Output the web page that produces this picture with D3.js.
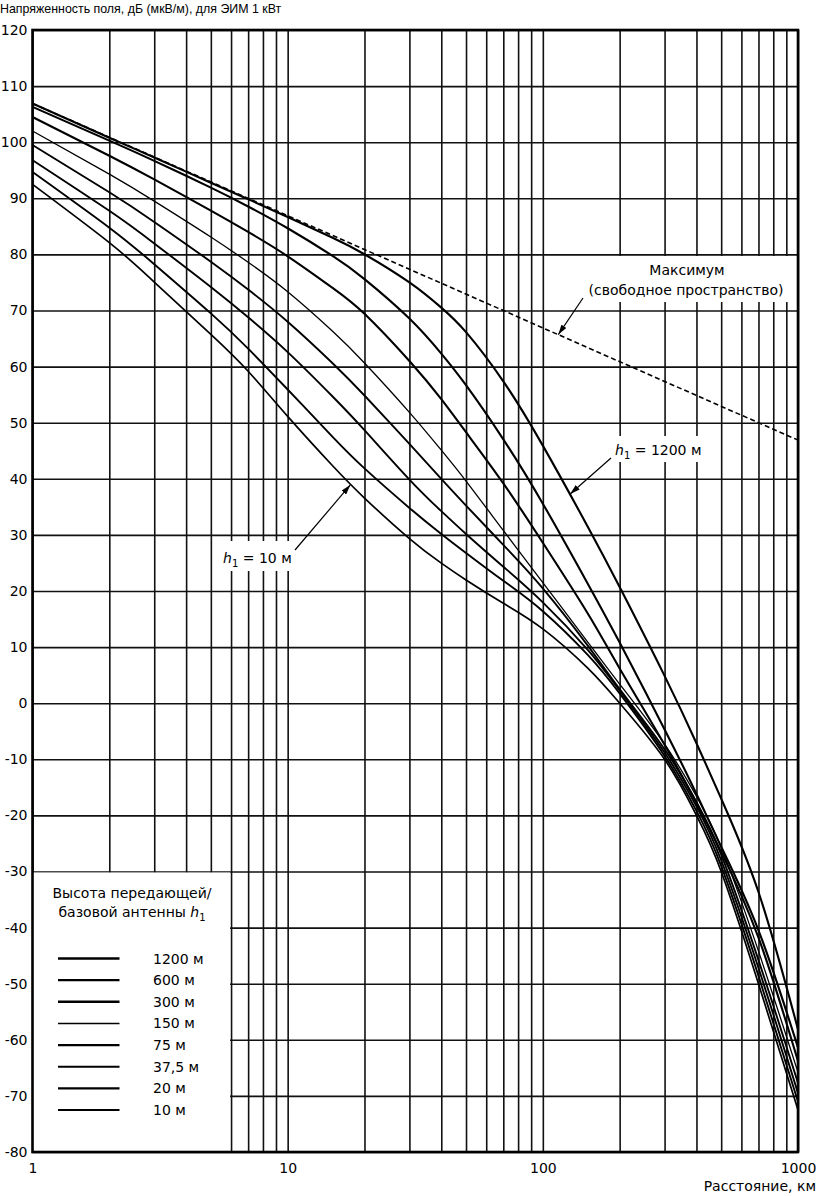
<!DOCTYPE html>
<html lang="ru">
<head>
<meta charset="utf-8">
<script src="https://cdn.jsdelivr.net/npm/d3@7"></script>
<style>
  html, body { margin: 0; padding: 0; background: #fff; }
  svg { display: block; }
</style>
</head>
<body>
<div id="chart"></div>
<script>
const distancesKm = [1, 2, 3, 5, 7, 10, 15, 20, 30, 40, 50, 70, 100, 150, 200, 300, 400, 500, 700, 1000];

// field strength, dB(uV/m), one array per transmitter height h1
const h1200 = [106.9, 100.8, 97.28, 92.77, 89.85, 86.67, 82.97, 80.03, 75.01, 70.51, 66.14, 57.38, 45.91, 31.46, 20.71, 4.87, -7.13, -17.02, -33.66, -58.15];
const h600 = [106.3, 100.28, 96.67, 91.9, 88.54, 84.66, 79.73, 75.6, 68.56, 62.31, 56.68, 47.04, 35.57, 21.31, 10.81, -4.68, -16.18, -25.59, -40.48, -61.4];
const h300 = [104.5, 97.58, 93.36, 87.81, 84.01, 79.67, 74.04, 69.42, 61.0, 54.2, 48.3, 39.2, 28.6, 16.0, 6.2, -7.4, -17.8, -26.5, -41.8, -63.8];
const h150 = [102.0, 94.3, 89.5, 83.1, 78.6, 73.35, 66.3, 60.65, 51.85, 45.1, 39.6, 30.8, 21.5, 10.9, 3.4, -7.3, -16.6, -25.7, -44.2, -65.8];
const h75 = [99.5, 91.07, 85.79, 78.69, 73.73, 68.0, 60.6, 54.85, 46.23, 39.98, 35.23, 28.22, 20.47, 10.26, 2.51, -8.2, -17.6, -27.0, -45.8, -67.7];
const h37 = [96.8, 87.77, 81.96, 74.19, 68.79, 62.59, 54.67, 48.67, 39.87, 34.24, 30.17, 24.33, 17.97, 9.52, 2.27, -8.8, -18.4, -28.0, -47.2, -69.5];
const h20 = [94.7, 84.77, 78.26, 69.49, 63.21, 55.92, 47.47, 41.85, 34.81, 30.18, 26.79, 21.83, 16.4, 8.62, 1.75, -9.4, -19.2, -29.0, -48.6, -71.0];
const h10 = [92.5, 82.11, 75.07, 65.75, 59.18, 51.12, 42.32, 36.57, 29.35, 24.97, 21.97, 17.81, 13.24, 6.24, 0.0, -10.0, -20.0, -30.0, -50.0, -72.5];

const heightLabels = ["1200 м", "600 м", "300 м", "150 м", "75 м", "37,5 м", "20 м", "10 м"];
const heightSeries = [h1200, h600, h300, h150, h75, h37, h20, h10];

// free space maximum: a straight line on the log axis
const freeSpaceKm = [1, 1000];
const freeSpaceDb = [106.9, 46.9];

const yTicks = [-80, -70, -60, -50, -40, -30, -20, -10, 0, 10, 20, 30, 40, 50, 60, 70, 80, 90, 100, 110, 120];
const xLabelTicks = [1, 10, 100, 1000];

const lineWidths = [2.1, 2.1, 2.1, 1.3, 1.9, 1.9, 1.9, 1.7];

const width = 819,
  height = 1196;
const plot = { left: 32.5, top: 30, right: 798, bottom: 1152 };
const labelFont = "DejaVu Sans, sans-serif";

const svg = d3
  .select("#chart")
  .append("svg")
  .attr("width", width)
  .attr("height", height)
  .attr("viewBox", `0 0 ${width} ${height}`);

svg
  .append("defs")
  .append("marker")
  .attr("id", "arrow")
  .attr("viewBox", "0 0 10 6")
  .attr("refX", 10)
  .attr("refY", 3)
  .attr("markerWidth", 10)
  .attr("markerHeight", 6)
  .attr("markerUnits", "userSpaceOnUse")
  .attr("orient", "auto")
  .append("path")
  .attr("d", "M0,0L10,3L0,6z")
  .attr("fill", "#000");

const x = d3.scaleLog().domain([1, 1000]).range([plot.left, plot.right]);
const y = d3.scaleLinear().domain([-80, 120]).range([plot.bottom, plot.top]);

// grid: every 1-2-3..9 on the log axis, every 10 dB
svg
  .append("g")
  .attr("transform", `translate(0,${plot.bottom})`)
  .call(d3.axisBottom(x).tickValues(x.ticks()).tickSize(-(plot.bottom - plot.top)).tickFormat(""))
  .call((g) => g.select(".domain").remove())
  .call((g) => g.selectAll("line").attr("stroke", "#111").attr("stroke-width", 1.6));

svg
  .append("g")
  .attr("transform", `translate(${plot.left},0)`)
  .call(d3.axisLeft(y).tickValues(yTicks).tickSize(-(plot.right - plot.left)).tickFormat(""))
  .call((g) => g.select(".domain").remove())
  .call((g) => g.selectAll("line").attr("stroke", "#111").attr("stroke-width", 1.6));

// white panels: legend box and label backgrounds
svg
  .append("rect")
  .attr("x", plot.left)
  .attr("y", y(-30) + 1)
  .attr("width", x(6) - plot.left - 1)
  .attr("height", plot.bottom - y(-30) - 1)
  .attr("fill", "#fff");

const labelBoxes = [
  [580, 256, 212, 46],
  [608, 436, 98, 26],
  [221, 541, 76, 30],
];
svg
  .selectAll(".label-box")
  .data(labelBoxes)
  .join("rect")
  .attr("class", "label-box")
  .attr("x", (d) => d[0])
  .attr("y", (d) => d[1])
  .attr("width", (d) => d[2])
  .attr("height", (d) => d[3])
  .attr("fill", "#fff");

// frame
svg
  .append("rect")
  .attr("x", plot.left)
  .attr("y", plot.top)
  .attr("width", plot.right - plot.left)
  .attr("height", plot.bottom - plot.top)
  .attr("fill", "none")
  .attr("stroke", "#000")
  .attr("stroke-width", 2.6);

const line = d3
  .line()
  .x((d) => x(d[0]))
  .y((d) => y(d[1]))
  .curve(d3.curveNatural);

svg
  .append("g")
  .selectAll("path")
  .data(heightSeries)
  .join("path")
  .attr("d", (vals) => line(distancesKm.map((d, i) => [d, vals[i]])))
  .attr("fill", "none")
  .attr("stroke", "#000")
  .attr("stroke-width", (d, i) => lineWidths[i]);

svg
  .append("path")
  .attr("d", line.curve(d3.curveLinear)(freeSpaceKm.map((d, i) => [d, freeSpaceDb[i]])))
  .attr("fill", "none")
  .attr("stroke", "#000")
  .attr("stroke-width", 1.6)
  .attr("stroke-dasharray", "5,3");

// tick labels
svg
  .append("g")
  .attr("transform", `translate(${plot.left},0)`)
  .call(d3.axisLeft(y).tickValues(yTicks).tickSize(0).tickPadding(5).tickFormat((d) => String(d)))
  .call((g) => g.select(".domain").remove())
  .call((g) => g.selectAll("text").attr("font-family", labelFont).attr("font-size", 14).attr("fill", "#000"));

svg
  .append("g")
  .attr("transform", `translate(0,${plot.bottom})`)
  .call(d3.axisBottom(x).tickValues(xLabelTicks).tickSize(0).tickPadding(11).tickFormat((d) => String(d)))
  .call((g) => g.select(".domain").remove())
  .call((g) => g.selectAll("text").attr("font-family", labelFont).attr("font-size", 14).attr("fill", "#000"));

svg
  .append("text")
  .attr("x", 0)
  .attr("y", 13)
  .attr("font-family", "Liberation Sans, Arial, sans-serif")
  .attr("font-size", 12.4)
  .text("Напряженность поля, дБ (мкВ/м), для ЭИМ 1 кВт");

svg
  .append("text")
  .attr("x", 816)
  .attr("y", 1191)
  .attr("text-anchor", "end")
  .attr("font-family", labelFont)
  .attr("font-size", 14)
  .text("Расстояние, км");

// "h1 = ..." style label with italic h and subscript 1
function hLabel(g, px, py, rest) {
  const t = g
    .append("text")
    .attr("x", px)
    .attr("y", py)
    .attr("font-family", labelFont)
    .attr("font-size", 14);
  t.append("tspan").attr("font-style", "italic").text("h");
  t.append("tspan").attr("font-size", 10).attr("dy", 4).text("1");
  t.append("tspan").attr("dy", -4).text(rest);
  return t;
}

// annotations
svg
  .append("text")
  .attr("x", 687)
  .attr("y", 275)
  .attr("text-anchor", "middle")
  .attr("font-family", labelFont)
  .attr("font-size", 14)
  .text("Максимум");
svg
  .append("text")
  .attr("x", 686)
  .attr("y", 295)
  .attr("text-anchor", "middle")
  .attr("font-family", labelFont)
  .attr("font-size", 14)
  .text("(свободное пространство)");

hLabel(svg, 615, 455, " = 1200 м");
hLabel(svg, 223, 563, " = 10 м");

// arrows: tail in pixels near the label, head on the curve (distance, dB)
const arrows = [
  [583, 298, 115, 65.7],
  [611, 458, 128, 37.3],
  [295, 550, 17.6, 38.9],
];
svg
  .selectAll(".arrow")
  .data(arrows)
  .join("line")
  .attr("class", "arrow")
  .attr("x1", (d) => d[0])
  .attr("y1", (d) => d[1])
  .attr("x2", (d) => x(d[2]))
  .attr("y2", (d) => y(d[3]))
  .attr("stroke", "#000")
  .attr("stroke-width", 1.2)
  .attr("marker-end", "url(#arrow)");

// legend
const legend = svg.append("g");
legend
  .append("text")
  .attr("x", 132)
  .attr("y", 898)
  .attr("text-anchor", "middle")
  .attr("font-family", labelFont)
  .attr("font-size", 14)
  .text("Высота передающей/");
const lt = legend
  .append("text")
  .attr("x", 132)
  .attr("y", 917)
  .attr("text-anchor", "middle")
  .attr("font-family", labelFont)
  .attr("font-size", 14);
lt.append("tspan").text("базовой антенны ");
lt.append("tspan").attr("font-style", "italic").text("h");
lt.append("tspan").attr("font-size", 10).attr("dy", 4).text("1");

const rows = legend
  .selectAll(".row")
  .data(heightLabels)
  .join("g")
  .attr("class", "row")
  .attr("transform", (d, i) => `translate(0,${958.5 + i * 21.65})`);
rows
  .append("line")
  .attr("x1", 58)
  .attr("x2", 119.5)
  .attr("stroke", "#000")
  .attr("stroke-width", (d, i) => lineWidths[i] + 0.3);
rows
  .append("text")
  .attr("x", 153)
  .attr("y", 5)
  .attr("font-family", labelFont)
  .attr("font-size", 14)
  .text((d) => d);
</script>
</body>
</html>
